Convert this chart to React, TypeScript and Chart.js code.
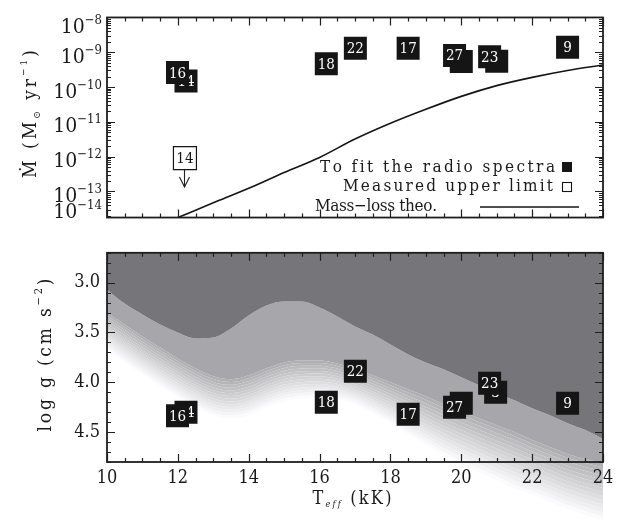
import React, { useEffect, useRef } from 'react';
import { Chart, registerables } from 'chart.js';
Chart.register(...registerables);

const FONT = '"DejaVu Serif Condensed", "DejaVu Serif", serif';

const theoTeff = [12, 13, 14, 15, 16, 17, 18, 19, 20, 21, 22, 23, 24];
const theoMdot = [1.78e-14, 4.7e-14, 1.23e-13, 3.5e-13, 9.5e-13, 3.2e-12, 9.1e-12, 2.3e-11, 5.4e-11, 1.1e-10, 1.9e-10, 3.0e-10, 4.3e-10];

const fitStars = ['14', '16', '18', '22', '17', '7', '27', '3', '23', '9'];
const fitTeff = [12.23, 11.99, 16.19, 17.01, 18.5, 20.0, 19.81, 21.0, 20.8, 23.0];
const fitMdot = [1.5e-10, 2.6e-10, 4.7e-10, 1.3e-9, 1.3e-9, 5.4e-10, 8.1e-10, 5.5e-10, 7.4e-10, 1.4e-9];

const limitStars = ['14'];
const limitTeff = [12.2];
const limitMdot = [9.1e-13];

const mdotAxisMin = 1.78e-14;
const mdotAxisMax = 1e-8;
const mdotTickValues = [1e-8, 1e-9, 1e-10, 1e-11, 1e-12, 1e-13, mdotAxisMin];
const mdotTickExponents = ['−8', '−9', '−10', '−11', '−12', '−13', '−14'];

const gStars = ['14', '16', '18', '22', '17', '7', '27', '3', '23', '9'];
const gTeff = [12.23, 11.99, 16.19, 17.01, 18.5, 20.0, 19.81, 20.97, 20.8, 23.0];
const gLogg = [4.30, 4.335, 4.20, 3.89, 4.32, 4.21, 4.25, 4.10, 4.01, 4.21];

const edgeTeff = [10, 10.5, 11, 11.5, 12, 12.5, 13, 13.5, 14, 14.5, 15, 15.5, 16, 16.5, 17, 17.5, 18, 18.5, 19, 19.5, 20, 20.5, 21, 21.5, 22, 22.5, 23, 23.5, 24];
const darkEdge = [3.07, 3.21, 3.32, 3.42, 3.50, 3.56, 3.55, 3.46, 3.33, 3.23, 3.19, 3.19, 3.25, 3.34, 3.44, 3.52, 3.62, 3.72, 3.80, 3.87, 3.95, 4.03, 4.11, 4.18, 4.26, 4.33, 4.41, 4.48, 4.57];
const lightEdge = [3.30, 3.42, 3.54, 3.65, 3.76, 3.86, 3.94, 3.97, 3.93, 3.86, 3.80, 3.78, 3.78, 3.81, 3.87, 3.93, 4.00, 4.07, 4.14, 4.22, 4.29, 4.36, 4.43, 4.50, 4.58, 4.65, 4.72, 4.77, 4.81];
const fadeEdge = [3.67, 3.80, 3.92, 4.04, 4.15, 4.25, 4.33, 4.36, 4.33, 4.25, 4.19, 4.16, 4.15, 4.17, 4.22, 4.31, 4.41, 4.52, 4.63, 4.73, 4.82, 4.90, 4.98, 5.06, 5.12, 5.19, 5.26, 5.32, 5.38];

const teffMajorTicks = [10, 12, 14, 16, 18, 20, 22, 24];
const loggMajorTicks = [3.0, 3.5, 4.0, 4.5];
const loggMin = 2.7;
const loggMax = 4.8;

const W = 628;
const TOP_H = 235;
const BOT_H = 287;
const LEFT = 107;
const RIGHT_PAD = 25;
const BOT_PLOT_TOP = 13;
const BOT_PLOT_BOTTOM = 227;
const OVER_H = BOT_H - BOT_PLOT_BOTTOM;

type Part = { t: string; size: number; dy?: number; italic?: boolean };

function drawRich(ctx: CanvasRenderingContext2D, parts: Part[], x: number, y: number, align: 'left' | 'center' | 'right', target?: number) {
  const chars: { ch: string; font: string; dy: number; w: number }[] = [];
  for (const p of parts) {
    const font = `${p.italic ? 'italic ' : ''}${p.size}px ${FONT}`;
    ctx.font = font;
    for (const ch of Array.from(p.t)) {
      chars.push({ ch, font, dy: p.dy || 0, w: ctx.measureText(ch).width });
    }
  }
  const natural = chars.reduce((s, c) => s + c.w, 0);
  const gap = target && chars.length > 1 ? (target - natural) / (chars.length - 1) : 0;
  const total = target ?? natural;
  let cx = align === 'left' ? x : align === 'center' ? x - total / 2 : x - total;
  ctx.textAlign = 'left';
  ctx.textBaseline = 'alphabetic';
  for (const c of chars) {
    ctx.font = c.font;
    ctx.fillText(c.ch, cx, y + c.dy);
    cx += c.w + gap;
  }
}

function makeFrame(xMinor: number[], xMajor: number[], yMinor: number[], yMajor: number[]) {
  return {
    id: 'frame',
    afterDraw(chart: any) {
      const { ctx, chartArea: a, scales } = chart;
      const xs = scales.x, ys = scales.y;
      ctx.save();
      ctx.strokeStyle = '#1e1e1e';
      ctx.lineWidth = 1.2;
      ctx.beginPath();
      for (const v of xMinor) {
        const px = Math.round(xs.getPixelForValue(v)) + 0.5;
        const len = xMajor.some((m) => Math.abs(m - v) < 1e-9) ? 8 : 4;
        ctx.moveTo(px, a.bottom); ctx.lineTo(px, a.bottom - len);
        ctx.moveTo(px, a.top); ctx.lineTo(px, a.top + len);
      }
      for (const v of yMinor) {
        const py = Math.round(ys.getPixelForValue(v)) + 0.5;
        const len = yMajor.some((m) => Math.abs(m - v) / Math.abs(m) < 1e-6) ? 8 : 4;
        ctx.moveTo(a.left, py); ctx.lineTo(a.left + len, py);
        ctx.moveTo(a.right, py); ctx.lineTo(a.right - len, py);
      }
      ctx.stroke();
      ctx.lineWidth = 1.8;
      ctx.strokeRect(a.left, a.top, a.right - a.left, a.bottom - a.top);
      ctx.restore();
    },
  };
}

const boxTextPlugin = {
  id: 'boxText',
  afterDatasetDraw(chart: any, args: any) {
    const ds = chart.data.datasets[args.index] as any;
    if (!ds.boxLabel) return;
    const el = args.meta.data[0];
    if (!el) return;
    const ctx = chart.ctx;
    ctx.save();
    ctx.font = `15px ${FONT}`;
    ctx.fillStyle = ds.boxTextColor;
    ctx.textAlign = 'center';
    ctx.textBaseline = 'middle';
    ctx.fillText(ds.boxLabel, el.x, el.y + 1);
    if (ds.arrow) {
      ctx.strokeStyle = '#222';
      ctx.lineWidth = 1.1;
      ctx.beginPath();
      const x = Math.round(el.x) - 0.5;
      ctx.moveTo(x, el.y + 12); ctx.lineTo(x, el.y + 29);
      ctx.moveTo(x - 5, el.y + 19); ctx.lineTo(x, el.y + 29); ctx.lineTo(x + 5, el.y + 19);
      ctx.stroke();
    }
    ctx.restore();
  },
};

const xMinorTicks: number[] = [];
for (let v = 10; v <= 24.0001; v += 0.5) xMinorTicks.push(Math.round(v * 2) / 2);
const mdotMinorTicks: number[] = [];
for (let e = -14; e <= -8; e++) for (let k = 1; k <= 9; k++) {
  const v = k * Math.pow(10, e);
  if (v >= mdotAxisMin * 0.999 && v <= mdotAxisMax * 1.001) mdotMinorTicks.push(v);
}
const mdotMajorTicks = mdotTickValues.slice(0, 6);
const loggMinorTicks: number[] = [];
for (let v = 2.7; v <= 4.8001; v += 0.1) loggMinorTicks.push(Math.round(v * 10) / 10);

const rectRadius = 23 / 2 / Math.SQRT1_2;

function boxDataset(label: string, x: number, y: number, order: number, filled: boolean, arrow = false) {
  return {
    data: [{ x, y }],
    showLine: false,
    fill: false,
    pointStyle: 'rect',
    pointRadius: rectRadius,
    pointBackgroundColor: filled ? '#151515' : '#ffffff',
    pointBorderColor: '#151515',
    pointBorderWidth: filled ? 0 : 1.2,
    boxLabel: label,
    boxTextColor: filled ? '#ffffff' : '#151515',
    arrow,
    order,
  } as any;
}

const baseOptions = {
  animation: false,
  responsive: false,
  devicePixelRatio: 1,
  events: [],
  plugins: { legend: { display: false }, tooltip: { enabled: false }, title: { display: false } },
};

function makeTop(canvas: HTMLCanvasElement) {
  const datasets: any[] = [
    {
      data: theoTeff.map((t, i) => ({ x: t, y: theoMdot[i] })),
      borderColor: '#151515',
      borderWidth: 1.6,
      pointRadius: 0,
      cubicInterpolationMode: 'monotone',
      fill: false,
      order: 5000,
    },
    ...limitStars.map((s, i) => boxDataset(s, limitTeff[i], limitMdot[i], 4000 - i, false, true)),
    ...fitStars.map((s, i) => boxDataset(s, fitTeff[i], fitMdot[i], 3000 - i, true)),
  ];
  const overlay = {
    id: 'topOverlay',
    afterDraw(chart: any) {
      const { ctx, chartArea: a, scales } = chart;
      ctx.save();
      ctx.fillStyle = '#1a1a1a';
      mdotTickValues.forEach((v, i) => {
        const py = scales.y.getPixelForValue(v);
        const c = Math.min(Math.max(py + 3.5, a.top + 9), a.bottom - 7);
        drawRich(ctx, [{ t: '10', size: 21 }, { t: mdotTickExponents[i], size: 13, dy: -9 }], 102, c + 7, 'right');
      });
      ctx.save();
      ctx.translate(36, 114);
      ctx.rotate(-Math.PI / 2);
      drawRich(ctx, [
        { t: 'Ṁ', size: 19 },
        { t: ' (M', size: 19 },
        { t: '⊙', size: 10, dy: 4 },
        { t: ' yr', size: 19 },
        { t: '−1', size: 10, dy: -9 },
        { t: ')', size: 19 },
      ], 0, 0, 'center', 128);
      ctx.restore();
      drawRich(ctx, [{ t: 'To fit the radio spectra', size: 17 }], 555, 172, 'right', 235);
      drawRich(ctx, [{ t: 'Measured upper limit', size: 17 }], 553, 191, 'right', 210);
      drawRich(ctx, [{ t: 'Mass−loss theo.', size: 17 }], 437, 211, 'right', 122);
      ctx.fillStyle = '#151515';
      ctx.fillRect(562, 162, 10, 10);
      ctx.strokeStyle = '#151515';
      ctx.lineWidth = 1.1;
      ctx.strokeRect(562.5, 182.5, 9, 9);
      ctx.lineWidth = 1.5;
      ctx.beginPath();
      ctx.moveTo(480, 207);
      ctx.lineTo(579, 207);
      ctx.stroke();
      ctx.restore();
    },
  };
  return new Chart(canvas, {
    type: 'line',
    data: { datasets },
    options: {
      ...baseOptions,
      layout: { padding: { top: 14, right: RIGHT_PAD, left: 0, bottom: 0 } },
      scales: {
        x: {
          type: 'linear', min: 10, max: 24,
          ticks: { display: false },
          grid: { display: false, drawTicks: false },
          border: { display: false },
          afterFit: (s: any) => { s.height = TOP_H - 219; },
        },
        y: {
          type: 'logarithmic', min: mdotAxisMin, max: mdotAxisMax,
          ticks: { display: false },
          grid: { display: false, drawTicks: false },
          border: { display: false },
          afterFit: (s: any) => { s.width = LEFT; },
        },
      },
    } as any,
    plugins: [boxTextPlugin, makeFrame(xMinorTicks, teffMajorTicks, mdotMinorTicks, mdotMajorTicks), overlay],
  });
}

function shadeDatasets(withDark: boolean) {
  const bandCount = 14;
  const toPts = (arr: number[]) => edgeTeff.map((t, i) => ({ x: t, y: arr[i] }));
  const base = { borderWidth: 0, borderColor: 'rgba(0,0,0,0)', pointRadius: 0, cubicInterpolationMode: 'monotone' };
  const datasets: any[] = [
    { ...base, data: toPts(darkEdge), fill: withDark ? 'end' : false, backgroundColor: 'rgb(117,117,122)', order: 9000 },
    { ...base, data: toPts(lightEdge), fill: '-1', backgroundColor: 'rgb(167,167,171)', order: 9001 },
  ];
  for (let k = 0; k < bandCount; k++) {
    const f = (k + 1) / bandCount;
    const g = Math.round(176 + (251 - 176) * (k / (bandCount - 1)));
    datasets.push({
      ...base,
      data: edgeTeff.map((t, i) => ({ x: t, y: lightEdge[i] + (fadeEdge[i] - lightEdge[i]) * f })),
      fill: '-1',
      backgroundColor: `rgb(${g},${g},${Math.min(255, g + 3)})`,
      order: 9002 + k,
    });
  }
  return datasets;
}

// shading that continues below the lower panel's x axis (as in the original figure)
function makeOverflow(canvas: HTMLCanvasElement) {
  const ppu = (BOT_PLOT_BOTTOM - BOT_PLOT_TOP) / (loggMax - loggMin);
  return new Chart(canvas, {
    type: 'line',
    data: { datasets: shadeDatasets(false) },
    options: {
      ...baseOptions,
      layout: { padding: { top: 0, right: RIGHT_PAD, left: LEFT, bottom: 0 } },
      scales: {
        x: { type: 'linear', min: 10, max: 24, display: false },
        y: { type: 'linear', min: loggMax, max: loggMax + OVER_H / ppu, reverse: true, display: false },
      },
    } as any,
  });
}

function makeBottom(canvas: HTMLCanvasElement) {
  const datasets: any[] = [
    ...shadeDatasets(true),
    ...gStars.map((s, i) => boxDataset(s, gTeff[i], gLogg[i], 3000 - i, true)),
  ];
  const overlay = {
    id: 'botOverlay',
    afterDraw(chart: any) {
      const { ctx } = chart;
      ctx.save();
      ctx.fillStyle = '#1a1a1a';
      ctx.save();
      ctx.translate(51, 355 - TOP_H);
      ctx.rotate(-Math.PI / 2);
      drawRich(ctx, [
        { t: 'log g (cm s', size: 19 },
        { t: '−2', size: 11, dy: -9 },
        { t: ')', size: 19 },
      ], 0, 0, 'center', 153);
      ctx.restore();
      drawRich(ctx, [
        { t: 'T', size: 18 },
        { t: 'eff', size: 9, dy: 3, italic: true },
        { t: ' (kK)', size: 18 },
      ], 352, 504 - TOP_H, 'center', 79);
      ctx.restore();
    },
  };
  return new Chart(canvas, {
    type: 'line',
    data: { datasets },
    options: {
      ...baseOptions,
      layout: { padding: { top: BOT_PLOT_TOP, right: RIGHT_PAD, left: 0, bottom: 0 } },
      scales: {
        x: {
          type: 'linear', min: 10, max: 24,
          afterBuildTicks: (s: any) => { s.ticks = teffMajorTicks.map((v) => ({ value: v })); },
          ticks: { font: { family: FONT, size: 18 }, color: '#1a1a1a', padding: 6, maxRotation: 0, autoSkip: false },
          grid: { display: false, drawTicks: false },
          border: { display: false },
          afterFit: (s: any) => { s.height = BOT_H - BOT_PLOT_BOTTOM; },
        },
        y: {
          type: 'linear', min: loggMin, max: loggMax, reverse: true,
          afterBuildTicks: (s: any) => { s.ticks = loggMajorTicks.map((v) => ({ value: v })); },
          ticks: { font: { family: FONT, size: 18 }, color: '#1a1a1a', padding: 7, callback: (v: any) => Number(v).toFixed(1) },
          grid: { display: false, drawTicks: false },
          border: { display: false },
          afterFit: (s: any) => { s.width = LEFT; },
        },
      },
    } as any,
    plugins: [boxTextPlugin, makeFrame(xMinorTicks, teffMajorTicks, loggMinorTicks, loggMajorTicks), overlay],
  });
}

export default function App() {
  const topRef = useRef<HTMLCanvasElement>(null);
  const overRef = useRef<HTMLCanvasElement>(null);
  const botRef = useRef<HTMLCanvasElement>(null);
  useEffect(() => {
    const charts = [makeTop(topRef.current!), makeOverflow(overRef.current!), makeBottom(botRef.current!)];
    return () => charts.forEach((c) => c.destroy());
  }, []);
  return (
    <div style={{ position: 'fixed', left: 0, top: 0, width: W, height: TOP_H + BOT_H, background: '#fff', overflow: 'hidden' }}>
      <canvas ref={topRef} width={W} height={TOP_H} style={{ position: 'absolute', left: 0, top: 0 }} />
      <canvas ref={overRef} width={W} height={OVER_H} style={{ position: 'absolute', left: 0, top: TOP_H + BOT_PLOT_BOTTOM }} />
      <canvas ref={botRef} width={W} height={BOT_H} style={{ position: 'absolute', left: 0, top: TOP_H }} />
    </div>
  );
}
